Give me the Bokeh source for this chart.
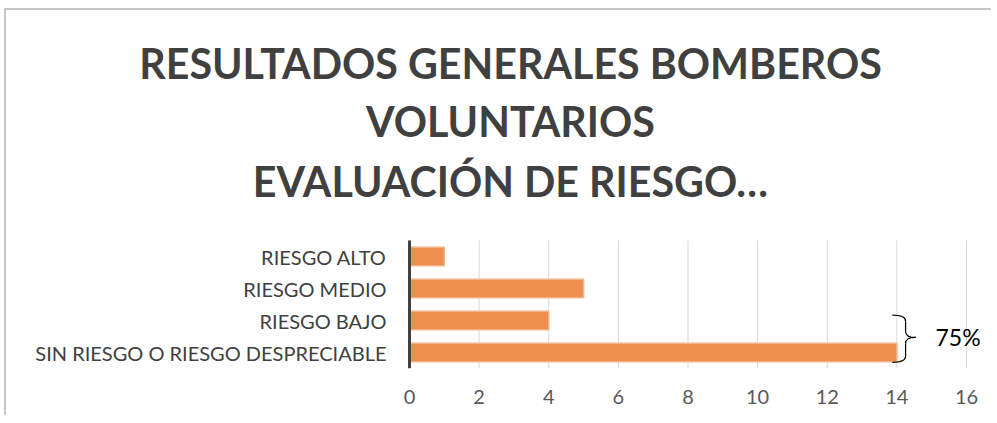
from bokeh.plotting import figure
from bokeh.layouts import column
from bokeh.models import Label, ColumnDataSource, FixedTicker, Range1d
from bokeh.embed import file_html
from bokeh.resources import INLINE

# ---- data ----
categories = ["SIN RIESGO O RIESGO DESPRECIABLE", "RIESGO BAJO", "RIESGO MEDIO", "RIESGO ALTO"]
values = [14, 4, 5, 1]
x_ticks = [0, 2, 4, 6, 8, 10, 12, 14, 16]
title_lines = ["RESULTADOS GENERALES BOMBEROS", "VOLUNTARIOS", "EVALUACIÓN DE RIESGO…"]
bracket_cats = ["RIESGO BAJO", "SIN RIESGO O RIESGO DESPRECIABLE"]

FONT = "Lato"
W, H = 985, 405            # canvas size
PAD_B = 47                 # space under the frame for tick labels
AXIS_PX = 403              # canvas x of value 0
PX_PER_X = 557 / 16        # pixels per x unit
PX_PER_CAT = 32            # pixels per category row
n = len(categories)

x_start = -AXIS_PX / PX_PER_X
x_end = (W - AXIS_PX) / PX_PER_X
y_start = -0.5
y_end = y_start + (H - PAD_B) / PX_PER_CAT

p = figure(width=W, height=H, output_backend="svg", toolbar_location=None,
           x_range=Range1d(x_start, x_end), y_range=Range1d(y_start, y_end),
           min_border_left=0, min_border_right=0, min_border_top=0,
           min_border_bottom=PAD_B)
p.yaxis.visible = False
p.grid.visible = False
p.outline_line_color = None
p.background_fill_color = "white"
p.border_fill_color = "white"

idx = list(range(n))

# vertical gridlines limited to the plot area
p.segment(x0=x_ticks, y0=[-0.5] * len(x_ticks), x1=x_ticks, y1=[n - 0.5] * len(x_ticks),
          line_color="#D9D9D9", line_width=1)

bar_h = 0.58
src = ColumnDataSource(dict(y=idx, val=values, cat=categories, zero=[0] * n))
p.hbar(y="y", right="val", left=0, height=bar_h, source=src,
       fill_color="#EE8F4F", line_color="#F4B287", line_width=1.5)

# category axis line and labels
p.segment(x0=[0], y0=[-0.5], x1=[0], y1=[n - 0.5], line_color="#404040", line_width=3)
p.text(x="zero", y="y", text="cat", source=src, x_offset=-23,
       text_align="right", text_baseline="middle", text_font={"value": FONT},
       text_font_size="20px", text_color="#404040")

# value axis
p.xaxis.ticker = FixedTicker(ticks=x_ticks)
p.xaxis.axis_line_color = None
p.xaxis.major_tick_line_color = None
p.xaxis.minor_tick_line_color = None
p.xaxis.major_label_text_font = FONT
p.xaxis.major_label_text_font_size = "20px"
p.xaxis.major_label_text_color = "#595959"
p.xaxis.major_label_standoff = 15

# title (pixel layout converted to data space)
def to_x(px):
    return x_start + px / PX_PER_X
def to_y(py):
    return y_start + (H - PAD_B - py) / PX_PER_CAT
for line, py in zip(title_lines, [52, 110, 170]):
    p.add_layout(Label(x=to_x(504), y=to_y(py), text=line,
                       text_font=FONT, text_font_style="bold", text_font_size="41.2px",
                       text_color="#404040", text_align="center", text_baseline="middle"))

# bracket grouping BAJO + SIN
i_top = categories.index(bracket_cats[0])
i_bot = categories.index(bracket_cats[1])
xm = max(values[i_top], values[i_bot])
x_l, x_v, x_tip = xm - 0.13, xm + 0.25, xm + 0.54
r = 0.19
top = i_top + bar_h / 2 - 0.12
bot = i_bot - bar_h / 2 - 0.02
mid = (i_top + i_bot) / 2 - 0.03
quad = dict(
    x0=[x_l, x_v, x_v, x_v], y0=[top, mid + r, mid - r, bot + r],
    x1=[x_v, x_tip, x_tip, x_l], y1=[top - r, mid, mid, bot],
    cx=[x_v, x_v, x_v, x_v], cy=[top, mid, mid, bot])
p.quadratic(x0="x0", y0="y0", x1="x1", y1="y1", cx="cx", cy="cy",
            source=ColumnDataSource(quad), line_color="black", line_width=1.2)
p.segment(x0=[x_v, x_v], y0=[top - r, mid - r], x1=[x_v, x_v], y1=[mid + r, bot + r],
          line_color="black", line_width=1.2)

pct = round(100 * (values[i_top] + values[i_bot]) / sum(values))
p.text(x=[xm + 1.11], y=[mid], text=[f"{pct}%"], text_font_size="23px",
       text_font={"value": FONT}, text_color="black", text_align="left", text_baseline="middle")

layout = column(p, styles={"margin-left": "4px", "margin-top": "8px",
                           "border-left": "2px solid #C6C6C6", "border-top": "2px solid #C6C6C6"})

open("out.html", "w").write(file_html(layout, INLINE))
